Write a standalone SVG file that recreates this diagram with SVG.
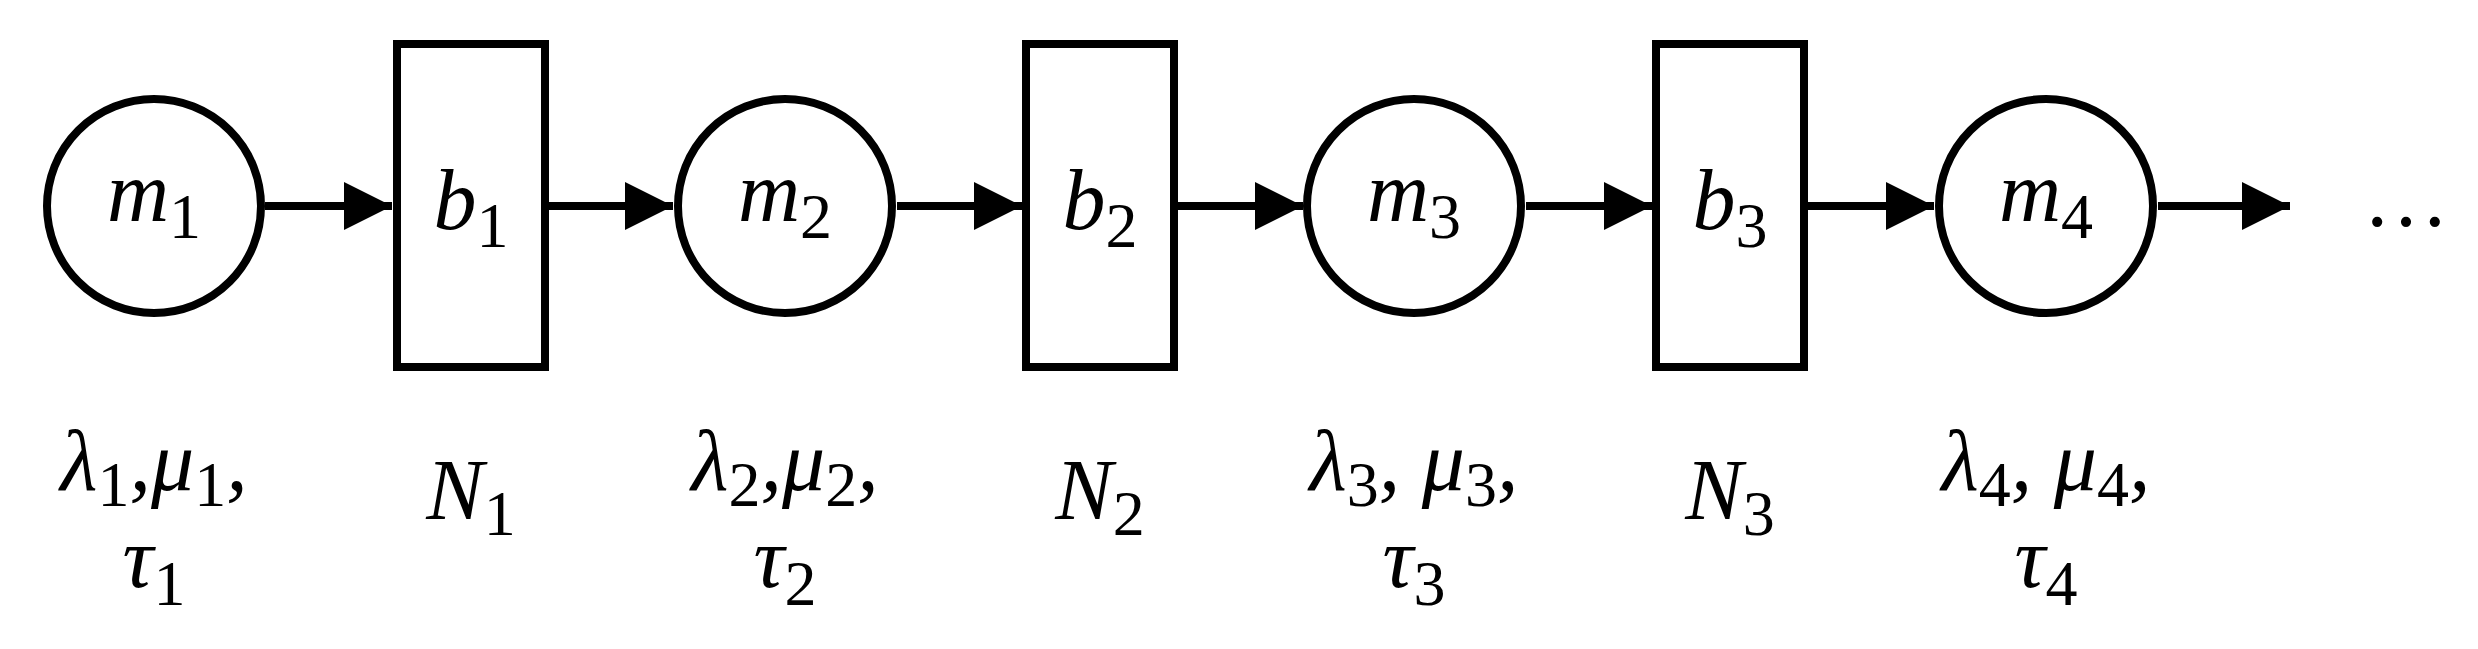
<svg xmlns="http://www.w3.org/2000/svg" width="2478" height="649" viewBox="0 0 2478 649">
<style>
.n{fill:#fff;stroke:#000;stroke-width:8}
.c{stroke:#000;stroke-width:8;fill:none}
text{font-family:"Liberation Serif","DejaVu Serif",serif;font-size:86px;font-style:italic;fill:#000;text-anchor:middle}
.s{font-style:normal;font-size:64px}
</style>
<defs><marker id="a" markerWidth="6" markerHeight="6" refX="6" refY="3" orient="auto" markerUnits="strokeWidth"><path d="M0,0L6,3L0,6z" fill="#000"/></marker></defs>
<rect width="2478" height="649" fill="#fff"/>
<g id="connectors">
<line class="c" x1="265" y1="206" x2="392" y2="206" marker-end="url(#a)"/>
<line class="c" x1="549" y1="206" x2="673" y2="206" marker-end="url(#a)"/>
<line class="c" x1="897" y1="206" x2="1022" y2="206" marker-end="url(#a)"/>
<line class="c" x1="1178" y1="206" x2="1303" y2="206" marker-end="url(#a)"/>
<line class="c" x1="1526" y1="206" x2="1652" y2="206" marker-end="url(#a)"/>
<line class="c" x1="1808" y1="206" x2="1934" y2="206" marker-end="url(#a)"/>
<line class="c" x1="2158" y1="206" x2="2290" y2="206" marker-end="url(#a)"/>
</g>
<g id="m1"><circle class="n" cx="154" cy="206" r="107"/><text x="154" y="221">m<tspan class="s" dy="17">1</tspan></text></g>
<g id="b1"><rect class="n" x="397" y="44" width="148" height="323"/><text x="471" y="229">b<tspan class="s" dy="18">1</tspan></text></g>
<g id="m2"><circle class="n" cx="785" cy="206" r="107"/><text x="785" y="221">m<tspan class="s" dy="17">2</tspan></text></g>
<g id="b2"><rect class="n" x="1026" y="44" width="148" height="323"/><text x="1100" y="229">b<tspan class="s" dy="18">2</tspan></text></g>
<g id="m3"><circle class="n" cx="1414" cy="206" r="107"/><text x="1414" y="221">m<tspan class="s" dy="17">3</tspan></text></g>
<g id="b3"><rect class="n" x="1656" y="44" width="148" height="323"/><text x="1730" y="229">b<tspan class="s" dy="18">3</tspan></text></g>
<g id="m4"><circle class="n" cx="2046" cy="206" r="107"/><text x="2046" y="221">m<tspan class="s" dy="17">4</tspan></text></g>
<g id="dots"><text x="2406" y="226" style="font-style:normal">…</text></g>
<g id="labels">
<text x="154" y="490">λ<tspan class="s" dy="16">1</tspan><tspan dy="-16">,μ</tspan><tspan class="s" dy="16">1</tspan><tspan dy="-16">,</tspan></text>
<text x="154" y="587">τ<tspan class="s" dy="18">1</tspan></text>
<text x="471" y="519">N<tspan class="s" dy="16">1</tspan></text>
<text x="785" y="490">λ<tspan class="s" dy="16">2</tspan><tspan dy="-16">,μ</tspan><tspan class="s" dy="16">2</tspan><tspan dy="-16">,</tspan></text>
<text x="785" y="587">τ<tspan class="s" dy="18">2</tspan></text>
<text x="1100" y="519">N<tspan class="s" dy="16">2</tspan></text>
<text x="1414" y="490">λ<tspan class="s" dy="16">3</tspan><tspan dy="-16">, μ</tspan><tspan class="s" dy="16">3</tspan><tspan dy="-16">,</tspan></text>
<text x="1414" y="587">τ<tspan class="s" dy="18">3</tspan></text>
<text x="1730" y="519">N<tspan class="s" dy="16">3</tspan></text>
<text x="2046" y="490">λ<tspan class="s" dy="16">4</tspan><tspan dy="-16">, μ</tspan><tspan class="s" dy="16">4</tspan><tspan dy="-16">,</tspan></text>
<text x="2046" y="587">τ<tspan class="s" dy="18">4</tspan></text>
</g>
</svg>
